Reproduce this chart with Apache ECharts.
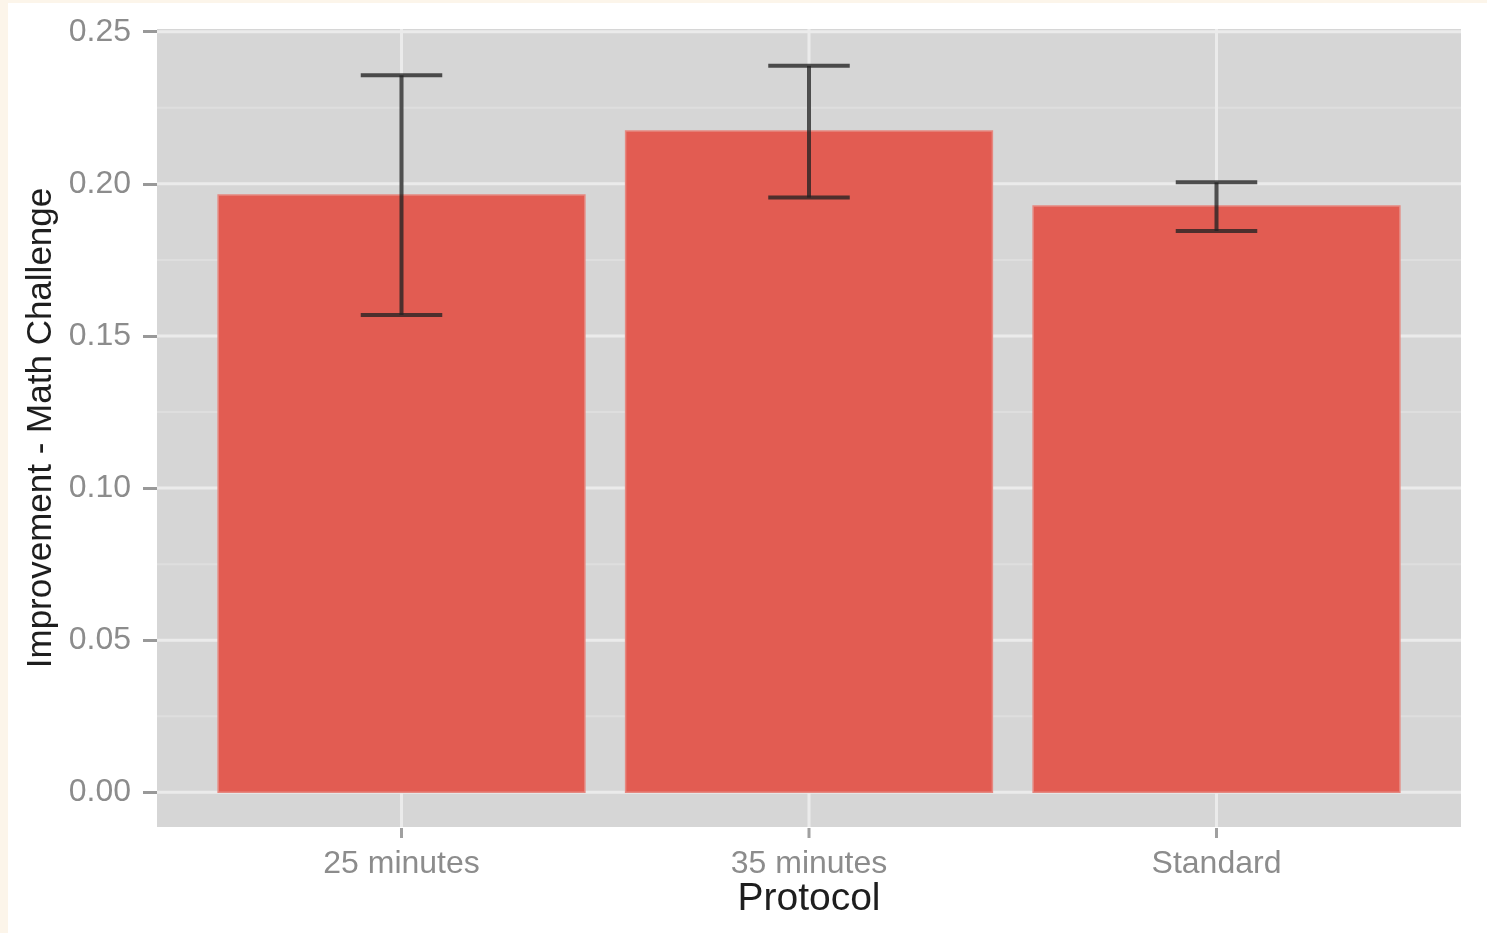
<!DOCTYPE html>
<html>
<head>
<meta charset="utf-8">
<script src="https://cdn.jsdelivr.net/npm/echarts@6/dist/echarts.min.js"></script>
<style>
  html, body { margin: 0; padding: 0; background: #fcf5ea; }
  #paper { position: absolute; left: 8px; top: 3px; right: 0; bottom: 0; background: #ffffff; }
  #main { position: absolute; left: 0; top: 0; width: 1487px; height: 933px; }
</style>
</head>
<body>
<div id="paper"></div>
<div id="main"></div>
<script>
  // data
  const categories = ['25 minutes', '35 minutes', 'Standard'];
  const means = [0.1963, 0.2174, 0.1927];
  const lower = [0.1569, 0.1955, 0.1845];
  const upper = [0.2357, 0.2388, 0.2005];
  const yTicks = [0, 0.05, 0.10, 0.15, 0.20, 0.25];
  const yMinor = [0.025, 0.075, 0.125, 0.175, 0.225];
  const xPos = [1, 2, 3];

  const X_MIN = 0.4, X_MAX = 3.6;
  const Y_MIN = -0.0114, Y_MAX = 0.2509;

  const myChart = echarts.init(document.getElementById('main'), null, {renderer: 'canvas'});

  // horizontal grid lines across the panel
  function hLine(color, width) {
    return function (params, api) {
      const v = api.value(0);
      const a = api.coord([X_MIN, v]);
      const b = api.coord([X_MAX, v]);
      return {type: 'line', shape: {x1: a[0], y1: a[1], x2: b[0], y2: b[1]},
        style: {stroke: color, lineWidth: width}};
    };
  }

  const option = {
    backgroundColor: 'transparent',
    animation: false,
    grid: {left: 157, right: 26, top: 29, bottom: 106, show: true, backgroundColor: '#d6d6d6', borderWidth: 0},
    xAxis: {
      type: 'value', min: X_MIN, max: X_MAX,
      name: 'Protocol', nameLocation: 'middle', nameGap: 53, nameMoveOverlap: false,
      nameTextStyle: {fontFamily: 'Liberation Sans', fontSize: 39, color: '#1e1e1e'},
      axisLine: {show: false},
      splitLine: {show: false},
      axisTick: {show: false},
      axisLabel: {
        customValues: xPos, margin: 21,
        fontFamily: 'Liberation Sans', fontSize: 32, color: '#8c8c8c',
        formatter: function (v) { return categories[Math.round(v) - 1]; }
      }
    },
    yAxis: {
      type: 'value', min: Y_MIN, max: Y_MAX,
      name: 'Improvement - Math Challenge', nameLocation: 'middle', nameGap: 98, nameRotate: 90,
      nameMoveOverlap: false,
      nameTextStyle: {fontFamily: 'Liberation Sans', fontSize: 35, color: '#1e1e1e'},
      axisLine: {show: false},
      splitLine: {show: false},
      axisTick: {show: true, customValues: yTicks, length: 14, lineStyle: {color: '#999', width: 3}},
      axisLabel: {
        customValues: yTicks, margin: 26,
        fontFamily: 'Liberation Sans', fontSize: 32, color: '#8c8c8c',
        formatter: function (v) { return v.toFixed(2); }
      }
    },
    series: [
      {
        name: 'minor', type: 'custom', z: 1, silent: true,
        data: yMinor.map(v => [v]),
        renderItem: hLine('#dedede', 2)
      },
      {
        name: 'major', type: 'custom', z: 2, silent: true,
        data: yTicks.map(v => [v]),
        renderItem: hLine('#ebebeb', 3)
      },
      {
        name: 'majorX', type: 'custom', z: 2, silent: true,
        data: xPos.map(v => [v]),
        renderItem: function (params, api) {
          const x = api.value(0);
          const a = api.coord([x, Y_MIN]);
          const b = api.coord([x, Y_MAX]);
          return {type: 'line', shape: {x1: a[0], y1: a[1], x2: b[0], y2: b[1]},
            style: {stroke: '#ebebeb', lineWidth: 3}};
        }
      },
      {
        // tick marks under the panel, one per category
        name: 'xTicks', type: 'custom', z: 2, silent: true,
        data: xPos.map(v => [v]),
        renderItem: function (params, api) {
          const p = api.coord([api.value(0), Y_MIN]);
          return {type: 'line', shape: {x1: p[0], y1: p[1] + 1, x2: p[0], y2: p[1] + 11},
            style: {stroke: '#a0a0a0', lineWidth: 3}};
        }
      },
      {
        name: 'bars', type: 'custom', z: 3,
        data: xPos.map((x, i) => [x, means[i]]),
        renderItem: function (params, api) {
          const x = api.value(0);
          const p0 = api.coord([x - 0.45, api.value(1)]);
          const p1 = api.coord([x + 0.45, 0]);
          return {type: 'rect', shape: {x: p0[0], y: p0[1], width: p1[0] - p0[0], height: p1[1] - p0[1]},
            style: {fill: '#e25c52', stroke: '#e68880', lineWidth: 1.5}};
        }
      },
      {
        name: 'errors', type: 'custom', z: 4,
        data: xPos.map((x, i) => [x, lower[i], upper[i]]),
        renderItem: function (params, api) {
          const x = api.value(0);
          const lo = api.coord([x, api.value(1)]);
          const hi = api.coord([x, api.value(2)]);
          const l1 = api.coord([x - 0.1, api.value(1)]);
          const r1 = api.coord([x + 0.1, api.value(1)]);
          const l2 = api.coord([x - 0.1, api.value(2)]);
          const r2 = api.coord([x + 0.1, api.value(2)]);
          const st = {stroke: 'rgba(35,35,35,0.78)', lineWidth: 4};
          return {type: 'group', children: [
            {type: 'line', shape: {x1: lo[0], y1: lo[1], x2: hi[0], y2: hi[1]}, style: st},
            {type: 'line', shape: {x1: l1[0], y1: l1[1], x2: r1[0], y2: r1[1]}, style: st},
            {type: 'line', shape: {x1: l2[0], y1: l2[1], x2: r2[0], y2: r2[1]}, style: st}
          ]};
        }
      }
    ]
  };

  myChart.setOption(option);
</script>
</body>
</html>
